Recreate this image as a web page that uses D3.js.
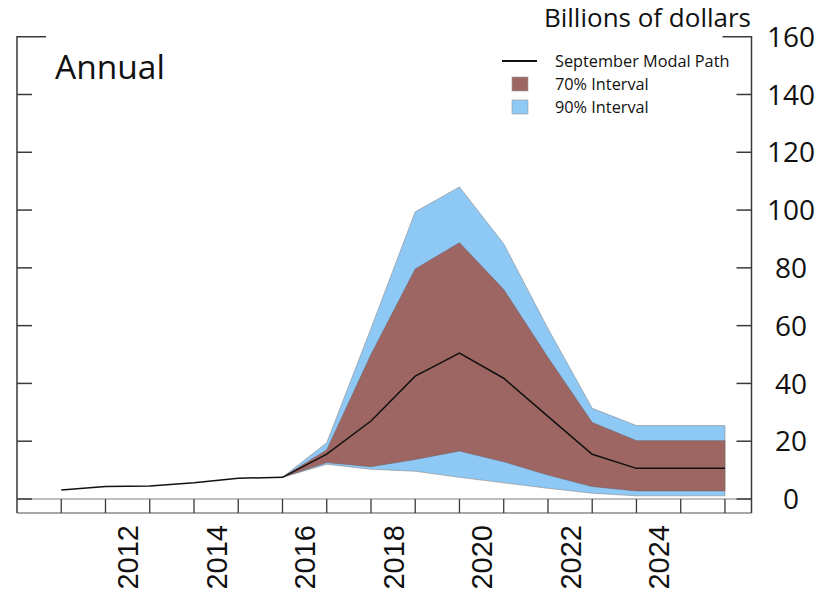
<!DOCTYPE html>
<html>
<head>
<meta charset="utf-8">
<script src="https://cdn.jsdelivr.net/npm/d3@7/dist/d3.min.js"></script>
<style>
  html, body { margin: 0; padding: 0; background: #fff; }
  svg { display: block; }
</style>
</head>
<body>
<svg id="chart" width="833" height="594"></svg>
<script>
// Modal path, plotted at year boundaries
const years = [2011, 2012, 2013, 2014, 2015, 2016, 2017, 2018, 2019, 2020, 2021, 2022, 2023, 2024, 2025, 2026];
const modalPath = [3.1, 4.3, 4.5, 5.6, 7.2, 7.5, 15.5, 27.0, 42.5, 50.5, 41.8, 28.6, 15.5, 10.6, 10.6, 10.6];

// Uncertainty bands start where the projection begins
const bandYears = [2016, 2017, 2018, 2019, 2020, 2021, 2022, 2023, 2024, 2025, 2026];
const upper70 = [7.5, 17.0, 50.0, 79.6, 88.7, 72.5, 49.0, 26.5, 20.2, 20.2, 20.2];
const lower70 = [7.5, 12.6, 11.2, 13.7, 16.6, 12.9, 8.3, 4.3, 2.8, 2.8, 2.8];
const upper90 = [7.5, 19.5, 59.0, 99.4, 108.0, 88.3, 59.0, 31.4, 25.4, 25.4, 25.4];
const lower90 = [7.5, 12.0, 10.3, 9.6, 7.5, 5.6, 3.7, 2.0, 1.1, 1.1, 1.1];

// Axis ticks and labels
const yearTicks = [2011, 2012, 2013, 2014, 2015, 2016, 2017, 2018, 2019, 2020, 2021, 2022, 2023, 2024, 2025, 2026];
const yearLabels = [2012, 2014, 2016, 2018, 2020, 2022, 2024];
const valueTicks = [0, 20, 40, 60, 80, 100, 120, 140, 160];

const legendItems = [
  { label: "September Modal Path", kind: "line" },
  { label: "70% Interval", kind: "p70" },
  { label: "90% Interval", kind: "p90" }
];

const colors = { p70: "#9e6662", p90: "#8ec8f5", line: "#111", frame: "#3a3a3a", zero: "#a8a8a8" };

const svg = d3.select("#chart");
const plotLeft = 17, plotRight = 751.5, plotTop = 36.7, zeroY = 499, plotBottom = 513;

const x = d3.scaleLinear().domain([2010, 2026.6]).range([plotLeft, plotRight]);
const y = d3.scaleLinear().domain([0, 160]).range([zeroY, plotTop]);

const band = (hi, lo) => bandYears.map((yr, i) => ({ yr, hi: hi[i], lo: lo[i] }));
const area = d3.area().x(d => x(d.yr)).y0(d => y(d.lo)).y1(d => y(d.hi));

// 90% band
svg.append("path")
  .datum(band(upper90, lower90))
  .attr("d", area)
  .attr("fill", colors.p90)
  .attr("stroke", "#8a8a8a").attr("stroke-width", 0.6);

// 70% band
svg.append("path")
  .datum(band(upper70, lower70))
  .attr("d", area)
  .attr("fill", colors.p70)
  .attr("stroke", "#7a6060").attr("stroke-width", 0.6);

// Modal path
svg.append("path")
  .datum(years.map((yr, i) => ({ yr, v: modalPath[i] })))
  .attr("d", d3.line().x(d => x(d.yr)).y(d => y(d.v)))
  .attr("fill", "none")
  .attr("stroke", colors.line)
  .attr("stroke-width", 1.5);

// Zero line and bottom frame
svg.append("line").attr("x1", plotLeft).attr("x2", plotRight).attr("y1", zeroY).attr("y2", zeroY)
  .attr("stroke", colors.zero).attr("stroke-width", 1.5);
svg.append("line").attr("x1", plotLeft).attr("x2", plotRight).attr("y1", plotBottom).attr("y2", plotBottom)
  .attr("stroke", "#8a8a8a").attr("stroke-width", 1.5);

// Side frames
const frame = svg.append("g").attr("stroke", colors.frame).attr("stroke-width", 1.5).attr("fill", "none");
frame.append("path").attr("d", `M${plotLeft + 29},${plotTop}H${plotLeft}V${plotBottom}`);
frame.append("path").attr("d", `M${plotRight - 29},${plotTop}H${plotRight}V${plotBottom}`);

// Value ticks on both sides
frame.append("g").selectAll("line").data(valueTicks.filter(v => v < 160)).join("line")
  .attr("x1", plotLeft).attr("x2", plotLeft + 15)
  .attr("y1", d => y(d)).attr("y2", d => y(d));
frame.append("g").selectAll("line").data(valueTicks.filter(v => v < 160)).join("line")
  .attr("x1", plotRight - 15).attr("x2", plotRight)
  .attr("y1", d => y(d)).attr("y2", d => y(d));

// Year ticks between the zero line and the bottom frame
svg.append("g").attr("stroke", colors.frame).attr("stroke-width", 1.3)
  .selectAll("line").data(yearTicks).join("line")
  .attr("x1", d => x(d)).attr("x2", d => x(d))
  .attr("y1", zeroY).attr("y2", plotBottom);

// Right axis labels
svg.append("g")
  .attr("font-family", "'Open Sans', sans-serif").attr("font-size", 28).attr("fill", "#111")
  .attr("text-anchor", "middle")
  .selectAll("text").data(valueTicks).join("text")
  .attr("x", 791).attr("y", d => y(d)).attr("dy", "0.36em")
  .text(d => d);

// Rotated year labels, centred within each year
svg.append("g")
  .attr("font-family", "'Liberation Sans', Arial, sans-serif").attr("font-size", 29).attr("fill", "#111")
  .selectAll("text").data(yearLabels).join("text")
  .attr("transform", d => `translate(${x(d + 0.5)},525) rotate(-90)`)
  .attr("text-anchor", "end").attr("dy", "0.36em")
  .text(d => d);

// Panel title and units
svg.append("text").attr("x", 55).attr("y", 79)
  .attr("font-family", "'Open Sans', sans-serif").attr("font-size", 33.5).attr("fill", "#111")
  .text("Annual");
svg.append("text").attr("x", 751).attr("y", 27).attr("text-anchor", "end")
  .attr("font-family", "'Open Sans', sans-serif").attr("font-size", 26).attr("fill", "#111")
  .text("Billions of dollars");

// Legend
const legend = svg.append("g").attr("font-family", "'Open Sans', sans-serif").attr("font-size", 16.3).attr("fill", "#111");
const rowY = [61, 84, 107];
legendItems.forEach((item, i) => {
  const cy = rowY[i];
  if (item.kind === "line") {
    legend.append("line").attr("x1", 502).attr("x2", 537).attr("y1", cy).attr("y2", cy)
      .attr("stroke", colors.line).attr("stroke-width", 1.8);
  } else {
    legend.append("rect").attr("x", 512).attr("y", cy - 7).attr("width", 16).attr("height", 14)
      .attr("fill", colors[item.kind]).attr("stroke", "#999").attr("stroke-width", 0.6);
  }
  legend.append("text").attr("x", 555).attr("y", cy).attr("dy", "0.35em").text(item.label);
});
</script>
</body>
</html>
